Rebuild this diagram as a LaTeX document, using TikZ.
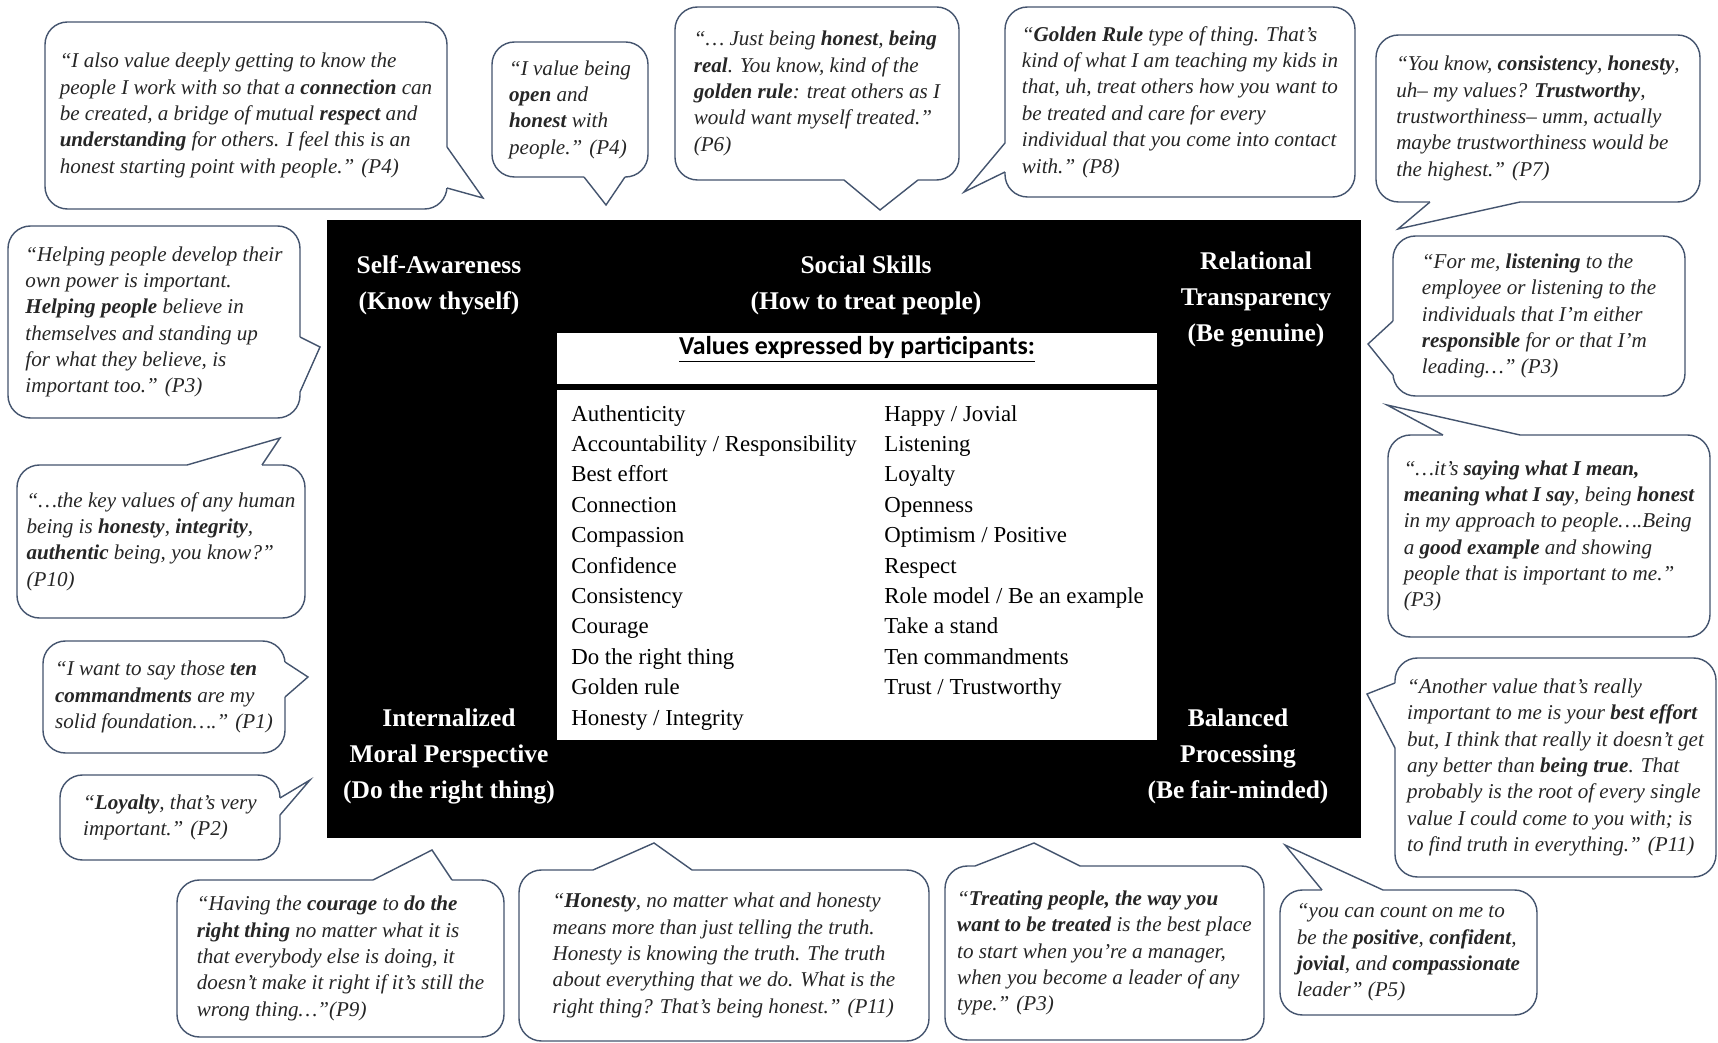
\documentclass[tikz,border=0pt]{standalone}
\usepackage{fontspec}
\setmainfont{Liberation Serif}[
    UprightFont={Liberation Serif},
    BoldFont={Liberation Serif Bold},
    ItalicFont={Liberation Serif Italic},
    BoldItalicFont={Liberation Serif Bold Italic}]
\newfontfamily\carlito{Carlito}
\usetikzlibrary{fit,positioning}

\definecolor{bubbleline}{RGB}{68,84,110}

\newcommand{\pix}{0.02cm}
\newcommand{\quotefont}{\fontsize{12}{15}\selectfont\itshape}
\newcommand{\headfont}{\fontsize{14.5}{20.5}\selectfont\bfseries}
\newcommand{\valuefont}{\fontsize{13}{17.3}\selectfont}

\tikzstyle{bubble} = [rectangle, draw=bubbleline, fill=white, line width=.8pt, rounded corners=.45cm, inner sep=0pt, outer sep=0pt, align=left, font=\quotefont, text=black!85]
\tikzstyle{bubbletail} = [draw=bubbleline, line width=.8pt, line join=miter]
\tikzstyle{bubblegap} = [draw=white, line width=2.4pt]
\tikzstyle{heading} = [text=white, font=\headfont, align=center]
\tikzstyle{valuelist} = [font=\valuefont, align=left, anchor=north west, inner sep=0pt]

\begin{document}
\begin{tikzpicture}[x=0.02cm, y=-0.02cm]

    \useasboundingbox[fill=white] (0,0) rectangle (1718,1043);

    % THE FRAME in the middle
        \node [fill=black, inner sep=0pt, fit={(327,220) (1361,838)}]
            (frame) {};
        \node [fill=white, inner sep=0pt, fit={(557,333) (1157,384)}]
            (title) {\carlito\fontsize{14.7}{17}\selectfont\bfseries\underline{Values expressed by participants:}};
        \node [fill=white, inner sep=0pt, fit={(557,390) (1157,740)}]
            (valuebox) {};

    % the values, two columns
        \node [valuelist] at (571,405)
            (colleft) {Authenticity\\Accountability / Responsibility\\Best effort\\Connection\\Compassion\\Confidence\\Consistency\\Courage\\Do the right thing\\Golden rule\\Honesty / Integrity};
        \node [valuelist] at (884,405)
            (colright) {Happy / Jovial\\Listening\\Loyalty\\Openness\\Optimism / Positive\\Respect\\Role model / Be an example\\Take a stand\\Ten commandments\\Trust / Trustworthy};

    % the five headings
        \node [heading] at (439,285.5)
            (selfaware) {Self-Awareness\\(Know thyself)};
        \node [heading] at (866,285.5)
            (social) {Social Skills\\(How to treat people)};
        \node [heading] at (1256,299)
            (transparency) {Relational\\Transparency\\(Be genuine)};
        \node [heading] at (449,756)
            (moral) {Internalized\\Moral Perspective\\(Do the right thing)};
        \node [heading] at (1238,756)
            (balanced) {Balanced\\Processing\\(Be fair-minded)};

    % TOP ROW of quotes
    % P4 connection
        \node [bubble, minimum width=402*\pix, minimum height=187*\pix] at (246,115.5)
            (pconnect) {“I also value deeply getting to know the\\people I work with so that a \textbf{connection} can\\be created, a bridge of mutual \textbf{respect} and\\\textbf{understanding} for others. I feel this is an\\honest starting point with people.” (P4)};
        \coordinate (pconnect-tip) at (483,198);
        \path [bubblegap] (pconnect.east |- 0,147) -- (pconnect.east |- 0,188);
        \draw [bubbletail] (pconnect.east |- 0,147) -- (pconnect-tip) -- (pconnect.east |- 0,188);
    % P4 open
        \node [bubble, minimum width=156*\pix, minimum height=135*\pix] at (570,109.5)
            (popen) {“I value being\\\textbf{open} and\\\textbf{honest} with\\people.” (P4)};
        \coordinate (popen-tip) at (606,205);
        \path [bubblegap] (popen.south -| 584,0) -- (popen.south -| 625,0);
        \draw [bubbletail] (popen.south -| 584,0) -- (popen-tip) -- (popen.south -| 625,0);
    % P6
        \node [bubble, minimum width=284*\pix, minimum height=173*\pix] at (817,93.5)
            (preal) {“… Just being \textbf{honest}, \textbf{being}\\\textbf{real}. You know, kind of the\\\textbf{golden rule}: treat others as I\\would want myself treated.”\\(P6)};
        \coordinate (preal-tip) at (880,210);
        \path [bubblegap] (preal.south -| 844,0) -- (preal.south -| 918,0);
        \draw [bubbletail] (preal.south -| 844,0) -- (preal-tip) -- (preal.south -| 918,0);
    % P8
        \node [bubble, minimum width=350*\pix, minimum height=190*\pix] at (1180,102)
            (pgolden) {“\textbf{Golden Rule} type of thing. That’s\\kind of what I am teaching my kids in\\that, uh, treat others how you want to\\be treated and care for every\\individual that you come into contact\\with.” (P8)};
        \coordinate (pgolden-tip) at (964,192);
        \path [bubblegap] (pgolden.west |- 0,143) -- (pgolden.west |- 0,172);
        \draw [bubbletail] (pgolden.west |- 0,143) -- (pgolden-tip) -- (pgolden.west |- 0,172);
    % P7
        \node [bubble, minimum width=324*\pix, minimum height=167*\pix] at (1538,118.5)
            (ptrust) {“You know, \textbf{consistency}, \textbf{honesty},\\uh-- my values? \textbf{Trustworthy},\\trustworthiness-- umm, actually\\maybe trustworthiness would be\\the highest.” (P7)};
        \coordinate (ptrust-tip) at (1398,229);
        \path [bubblegap] (ptrust.south -| 1430,0) -- (ptrust.south -| 1520,0);
        \draw [bubbletail] (ptrust.south -| 1430,0) -- (ptrust-tip) -- (ptrust.south -| 1520,0);

    % RIGHT COLUMN of quotes
    % P3 listening
        \node [bubble, minimum width=292*\pix, minimum height=160*\pix] at (1539,316)
            (plisten) {“For me, \textbf{listening} to the\\employee or listening to the\\individuals that I’m either\\\textbf{responsible} for or that I’m\\leading…” (P3)};
        \coordinate (plisten-tip) at (1368,344);
        \path [bubblegap] (plisten.west |- 0,321) -- (plisten.west |- 0,375);
        \draw [bubbletail] (plisten.west |- 0,321) -- (plisten-tip) -- (plisten.west |- 0,375);
    % P3 saying
        \node [bubble, minimum width=322*\pix, minimum height=202*\pix] at (1549,536)
            (psaying) {“…it’s \textbf{saying what I mean,}\\\textbf{meaning what I say}, being \textbf{honest}\\in my approach to people….Being\\a \textbf{good example} and showing\\people that is important to me.”\\(P3)};
        \coordinate (psaying-tip) at (1387,405);
        \path [bubblegap] (psaying.north -| 1443,0) -- (psaying.north -| 1520,0);
        \draw [bubbletail] (psaying.north -| 1443,0) -- (psaying-tip) -- (psaying.north -| 1520,0);
    % P11 being true
        \node [bubble, minimum width=321*\pix, minimum height=219*\pix] at (1555.5,767.5)
            (ptrue) {“Another value that’s really\\important to me is your \textbf{best effort}\\but, I think that really it doesn’t get\\any better than \textbf{being true}. That\\probably is the root of every single\\value I could come to you with; is\\to find truth in everything.” (P11)};
        \coordinate (ptrue-tip) at (1367,694);
        \path [bubblegap] (ptrue.west |- 0,683) -- (ptrue.west |- 0,748);
        \draw [bubbletail] (ptrue.west |- 0,683) -- (ptrue-tip) -- (ptrue.west |- 0,748);

    % LEFT COLUMN of quotes
    % P3 helping
        \node [bubble, minimum width=292*\pix, minimum height=192*\pix] at (154,322)
            (phelp) {“Helping people develop their\\own power is important.\\\textbf{Helping people} believe in\\themselves and standing up\\for what they believe, is\\important too.” (P3)};
        \coordinate (phelp-tip) at (320,347);
        \path [bubblegap] (phelp.east |- 0,337) -- (phelp.east |- 0,392);
        \draw [bubbletail] (phelp.east |- 0,337) -- (phelp-tip) -- (phelp.east |- 0,392);
    % P10
        \node [bubble, minimum width=288*\pix, minimum height=153*\pix] at (161,541.5)
            (pkey) {“…the key values of any human\\being is \textbf{honesty}, \textbf{integrity},\\\textbf{authentic} being, you know?”\\(P10)};
        \coordinate (pkey-tip) at (280,438);
        \path [bubblegap] (pkey.north -| 187,0) -- (pkey.north -| 262,0);
        \draw [bubbletail] (pkey.north -| 187,0) -- (pkey-tip) -- (pkey.north -| 262,0);
    % P1
        \node [bubble, minimum width=242*\pix, minimum height=112*\pix] at (164,697)
            (pten) {“I want to say those \textbf{ten}\\\textbf{commandments} are my\\solid foundation….” (P1)};
        \coordinate (pten-tip) at (308,677);
        \path [bubblegap] (pten.east |- 0,662) -- (pten.east |- 0,697);
        \draw [bubbletail] (pten.east |- 0,662) -- (pten-tip) -- (pten.east |- 0,697);
    % P2
        \node [bubble, minimum width=220*\pix, minimum height=85*\pix] at (170,817.5)
            (ployal) {“\textbf{Loyalty}, that’s very\\important.” (P2)};
        \coordinate (ployal-tip) at (310,780);
        \path [bubblegap] (ployal.east |- 0,798) -- (ployal.east |- 0,815);
        \draw [bubbletail] (ployal.east |- 0,798) -- (ployal-tip) -- (ployal.east |- 0,815);

    % BOTTOM ROW of quotes
    % P9
        \node [bubble, minimum width=327*\pix, minimum height=157*\pix] at (340.5,958.5)
            (pcourage) {“Having the \textbf{courage} to \textbf{do the}\\\textbf{right thing} no matter what it is\\that everybody else is doing, it\\doesn’t make it right if it’s still the\\wrong thing…”(P9)};
        \coordinate (pcourage-tip) at (432,850);
        \path [bubblegap] (pcourage.north -| 373,0) -- (pcourage.north -| 452,0);
        \draw [bubbletail] (pcourage.north -| 373,0) -- (pcourage-tip) -- (pcourage.north -| 452,0);
    % P11 honesty
        \node [bubble, minimum width=410*\pix, minimum height=171*\pix] at (724,955.5)
            (phonest) {“\textbf{Honesty}, no matter what and honesty\\means more than just telling the truth.\\Honesty is knowing the truth. The truth\\about everything that we do. What is the\\right thing? That’s being honest.” (P11)};
        \coordinate (phonest-tip) at (654,843);
        \path [bubblegap] (phonest.north -| 593,0) -- (phonest.north -| 692,0);
        \draw [bubbletail] (phonest.north -| 593,0) -- (phonest-tip) -- (phonest.north -| 692,0);
    % P3 treating
        \node [bubble, minimum width=319*\pix, minimum height=174*\pix] at (1104.5,953)
            (ptreat) {“\textbf{Treating people, the way you}\\\textbf{want to be treated} is the best place\\to start when you’re a manager,\\when you become a leader of any\\type.” (P3)};
        \coordinate (ptreat-tip) at (1034,843);
        \path [bubblegap] (ptreat.north -| 975,0) -- (ptreat.north -| 1080,0);
        \draw [bubbletail] (ptreat.north -| 975,0) -- (ptreat-tip) -- (ptreat.north -| 1080,0);
    % P5
        \node [bubble, minimum width=257*\pix, minimum height=125*\pix] at (1408.5,952.5)
            (pcount) {“you can count on me to\\be the \textbf{positive}, \textbf{confident},\\\textbf{jovial}, and \textbf{compassionate}\\leader” (P5)};
        \coordinate (pcount-tip) at (1285,845);
        \path [bubblegap] (pcount.north -| 1322,0) -- (pcount.north -| 1383,0);
        \draw [bubbletail] (pcount.north -| 1322,0) -- (pcount-tip) -- (pcount.north -| 1383,0);

\end{tikzpicture}
\end{document}
